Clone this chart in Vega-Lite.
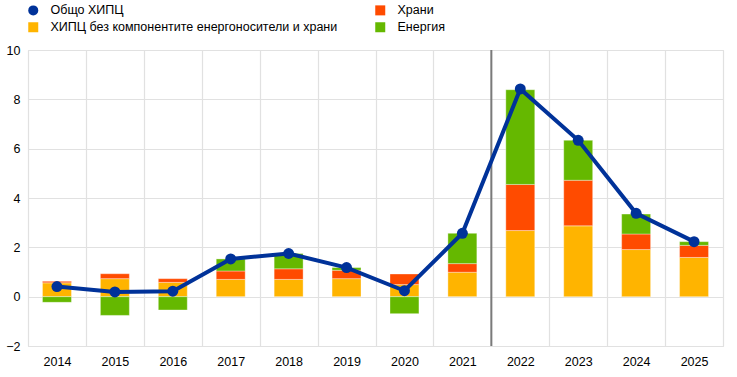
{
  "$schema": "https://vega.github.io/schema/vega-lite/v6.json",
  "width": 695,
  "height": 296,
  "autosize": "none",
  "padding": {"left": 28, "top": 50, "right": 14, "bottom": 31},
  "config": {
    "font": "Liberation Sans",
    "view": {"stroke": "#d9d9d9", "strokeWidth": 1},
    "axis": {"labelFont": "Liberation Sans", "labelFontSize": 12.5, "labelColor": "#000000", "gridColor": "#e1e1e1", "gridWidth": 1.2, "domain": false, "ticks": false},
    "legend": {
      "orient": "none",
      "legendX": -1,
      "legendY": -46,
      "columns": 2,
      "columnPadding": 36,
      "rowPadding": 4,
      "padding": 0,
      "symbolSize": 100,
      "symbolStrokeWidth": 0,
      "labelFont": "Liberation Sans",
      "labelFontSize": 12.5,
      "labelColor": "#000000",
      "labelOffset": 11,
      "labelLimit": 400
    }
  },
  "datasets": {
    "parts": [
      {"year": "2014", "component": "ХИПЦ без компонентите енергоносители и храни", "value": 0.56},
      {"year": "2014", "component": "Храни", "value": 0.06},
      {"year": "2014", "component": "Енергия", "value": -0.23},
      {"year": "2015", "component": "ХИПЦ без компонентите енергоносители и храни", "value": 0.73},
      {"year": "2015", "component": "Храни", "value": 0.2},
      {"year": "2015", "component": "Енергия", "value": -0.76},
      {"year": "2016", "component": "ХИПЦ без компонентите енергоносители и храни", "value": 0.58},
      {"year": "2016", "component": "Храни", "value": 0.15},
      {"year": "2016", "component": "Енергия", "value": -0.54},
      {"year": "2017", "component": "ХИПЦ без компонентите енергоносители и храни", "value": 0.7},
      {"year": "2017", "component": "Храни", "value": 0.34},
      {"year": "2017", "component": "Енергия", "value": 0.49},
      {"year": "2018", "component": "ХИПЦ без компонентите енергоносители и храни", "value": 0.7},
      {"year": "2018", "component": "Храни", "value": 0.43},
      {"year": "2018", "component": "Енергия", "value": 0.62},
      {"year": "2019", "component": "ХИПЦ без компонентите енергоносители и храни", "value": 0.73},
      {"year": "2019", "component": "Храни", "value": 0.34},
      {"year": "2019", "component": "Енергия", "value": 0.11},
      {"year": "2020", "component": "ХИПЦ без компонентите енергоносители и храни", "value": 0.49},
      {"year": "2020", "component": "Храни", "value": 0.43},
      {"year": "2020", "component": "Енергия", "value": -0.69},
      {"year": "2021", "component": "ХИПЦ без компонентите енергоносители и храни", "value": 0.99},
      {"year": "2021", "component": "Храни", "value": 0.35},
      {"year": "2021", "component": "Енергия", "value": 1.23},
      {"year": "2022", "component": "ХИПЦ без компонентите енергоносители и храни", "value": 2.68},
      {"year": "2022", "component": "Храни", "value": 1.87},
      {"year": "2022", "component": "Енергия", "value": 3.84},
      {"year": "2023", "component": "ХИПЦ без компонентите енергоносители и храни", "value": 2.87},
      {"year": "2023", "component": "Храни", "value": 1.85},
      {"year": "2023", "component": "Енергия", "value": 1.62},
      {"year": "2024", "component": "ХИПЦ без компонентите енергоносители и храни", "value": 1.91},
      {"year": "2024", "component": "Храни", "value": 0.63},
      {"year": "2024", "component": "Енергия", "value": 0.81},
      {"year": "2025", "component": "ХИПЦ без компонентите енергоносители и храни", "value": 1.59},
      {"year": "2025", "component": "Храни", "value": 0.49},
      {"year": "2025", "component": "Енергия", "value": 0.15}
    ],
    "total": [
      {"year": "2014", "component": "Общо ХИПЦ", "value": 0.41},
      {"year": "2015", "component": "Общо ХИПЦ", "value": 0.19},
      {"year": "2016", "component": "Общо ХИПЦ", "value": 0.22},
      {"year": "2017", "component": "Общо ХИПЦ", "value": 1.53},
      {"year": "2018", "component": "Общо ХИПЦ", "value": 1.75},
      {"year": "2019", "component": "Общо ХИПЦ", "value": 1.18},
      {"year": "2020", "component": "Общо ХИПЦ", "value": 0.24},
      {"year": "2021", "component": "Общо ХИПЦ", "value": 2.57},
      {"year": "2022", "component": "Общо ХИПЦ", "value": 8.42},
      {"year": "2023", "component": "Общо ХИПЦ", "value": 6.34},
      {"year": "2024", "component": "Общо ХИПЦ", "value": 3.38},
      {"year": "2025", "component": "Общо ХИПЦ", "value": 2.23}
    ],
    "divider": [{"year": "2022"}]
  },
  "encoding": {
    "x": {
      "field": "year", "type": "nominal",
      "scale": {"paddingInner": 0, "paddingOuter": 0},
      "axis": {"title": null, "labelAngle": 0, "tickBand": "extent", "grid": true, "labelPadding": 9}
    }
  },
  "layer": [
    {
      "data": {"name": "parts"},
      "transform": [
        {"calculate": "datum.component === 'Храни' ? 2 : (datum.component === 'Енергия' ? 3 : 1)", "as": "stackOrder"}
      ],
      "mark": {"type": "bar", "width": {"band": 0.5}, "stroke": "#ffffff", "strokeOpacity": 0.35, "strokeWidth": 1},
      "encoding": {
        "y": {
          "field": "value", "type": "quantitative", "stack": "zero",
          "scale": {"domain": [-2, 10], "nice": false},
          "axis": {"title": null, "values": [-2, 0, 2, 4, 6, 8, 10], "labelPadding": 8}
        },
        "order": {"field": "stackOrder", "type": "quantitative", "sort": "ascending"},
        "color": {
          "field": "component", "type": "nominal", "title": null,
          "scale": {
            "domain": ["Общо ХИПЦ", "ХИПЦ без компонентите енергоносители и храни", "Храни", "Енергия"],
            "range": ["#003299", "#FFB400", "#FF4B00", "#65B800"]
          }
        }
      }
    },
    {
      "data": {"name": "divider"},
      "mark": {"type": "rule", "color": "#7a7a7a", "strokeWidth": 2},
      "encoding": {"x": {"field": "year", "type": "nominal", "bandPosition": 0}}
    },
    {
      "data": {"name": "total"},
      "mark": {"type": "line", "color": "#003299", "strokeWidth": 4},
      "encoding": {
        "y": {"field": "value", "type": "quantitative"}
      }
    },
    {
      "data": {"name": "total"},
      "mark": {"type": "point", "filled": true, "size": 120, "opacity": 1},
      "encoding": {
        "y": {"field": "value", "type": "quantitative"},
        "color": {"field": "component", "type": "nominal", "title": null},
        "shape": {
          "field": "component", "type": "nominal", "title": null,
          "scale": {
            "domain": ["Общо ХИПЦ", "ХИПЦ без компонентите енергоносители и храни", "Храни", "Енергия"],
            "range": ["circle", "square", "square", "square"]
          }
        }
      }
    }
  ]
}
